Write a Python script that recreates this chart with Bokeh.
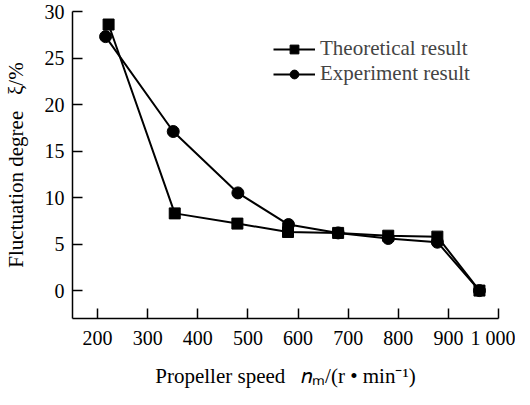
from bokeh.plotting import figure
from bokeh.models import FixedTicker, Legend, LegendItem, Range1d
from bokeh.embed import file_html
from bokeh.resources import INLINE

speed_theory = [222, 354, 479, 580, 680, 780, 878, 962]
xi_theory = [28.6, 8.3, 7.2, 6.3, 6.2, 5.9, 5.8, 0.0]
speed_exp = [216, 351, 480, 581, 680, 780, 878, 962]
xi_exp = [27.3, 17.1, 10.5, 7.1, 6.2, 5.6, 5.2, 0.0]
x_ticks = [200, 300, 400, 500, 600, 700, 800, 900, 1000]
x_tick_labels = ["200", "300", "400", "500", "600", "700", "800", "900", "1\u00a0000"]
y_ticks = [0, 5, 10, 15, 20, 25, 30]

FONT = "Liberation Serif"
NB = "\u00a0"

p = figure(width=515, height=390, output_backend="svg", toolbar_location=None,
           x_range=Range1d(150, 1000), y_range=Range1d(-3, 30),
           min_border_left=67, min_border_top=11, min_border_right=17, min_border_bottom=54)
p.outline_line_color = None
p.xgrid.visible = False
p.ygrid.visible = False
p.background_fill_color = "white"
p.border_fill_color = "white"

for ax in (p.xaxis[0], p.yaxis[0]):
    ax.major_tick_in = 10
    ax.major_tick_out = 0
    ax.minor_tick_in = 0
    ax.minor_tick_out = 0
    ax.axis_line_color = "black"
    ax.axis_line_width = 1.5
    ax.major_tick_line_color = "black"
    ax.major_tick_line_width = 1.5
    ax.major_label_text_font = FONT
    ax.major_label_text_font_size = "20px"
    ax.major_label_text_color = "black"
    ax.axis_label_text_font = FONT
    ax.axis_label_text_font_size = "21px"
    ax.axis_label_text_font_style = "normal"
    ax.axis_label_text_color = "black"

p.xaxis[0].ticker = FixedTicker(ticks=x_ticks)
p.xaxis[0].major_label_overrides = {t: l for t, l in zip(x_ticks, x_tick_labels)}
p.xaxis[0].major_label_standoff = 8
p.xaxis[0].axis_label = "Propeller speed" + NB * 3 + "𝑛ₘ/(r" + NB + "•" + NB + "min⁻¹)"
p.xaxis[0].axis_label_standoff = 12
p.yaxis[0].ticker = FixedTicker(ticks=y_ticks)
p.yaxis[0].major_label_standoff = 8
p.yaxis[0].axis_label = "Fluctuation degree" + NB * 3 + "ξ/%"
p.yaxis[0].axis_label_standoff = 14

l1 = p.line(speed_theory, xi_theory, line_color="black", line_width=2)
s1 = p.scatter(speed_theory, xi_theory, marker="square", size=11, fill_color="black", line_color="black")
l2 = p.line(speed_exp, xi_exp, line_color="black", line_width=2)
s2 = p.scatter(speed_exp, xi_exp, marker="circle", size=12, fill_color="black", line_color="black")

legend = Legend(items=[LegendItem(label="Theoretical result", renderers=[l1, s1]),
                       LegendItem(label="Experiment result", renderers=[l2, s2])],
                location=(201, 232), border_line_color=None, background_fill_alpha=0,
                label_text_font=FONT, label_text_font_size="21px",
                glyph_width=42, spacing=0, padding=4, margin=0,
                label_standoff=5, label_height=22, glyph_height=22)
p.add_layout(legend, "center")

open("out.html", "w").write(file_html(p, INLINE))
